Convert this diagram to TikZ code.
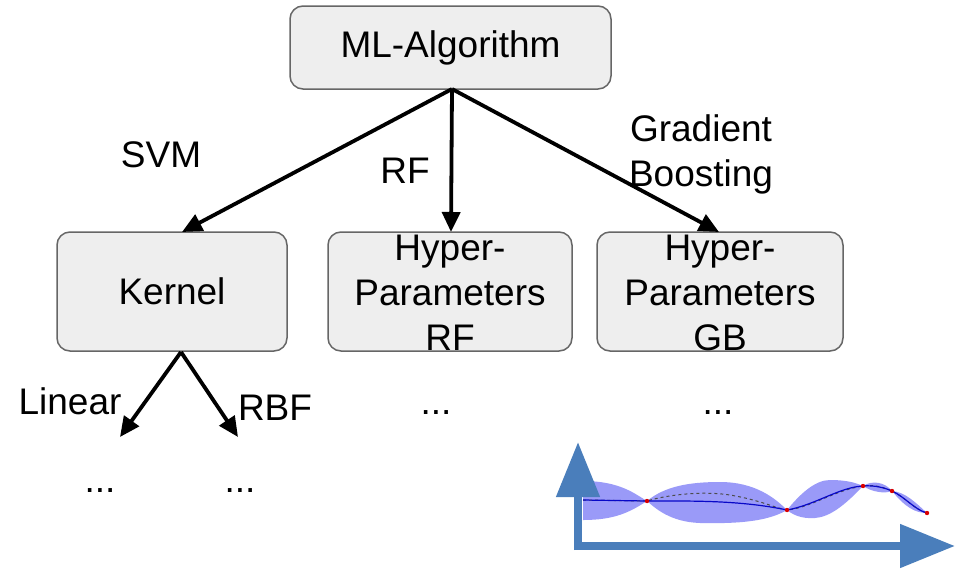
\documentclass[tikz,border=0pt]{standalone}
\usepackage{fontspec}
\setmainfont{Liberation Sans}
\usetikzlibrary{arrows.meta}
\definecolor{boxfill}{HTML}{EEEEEE}
\definecolor{boxline}{HTML}{666666}
\definecolor{axisblue}{HTML}{4A7EBB}
\definecolor{bandblue}{HTML}{9A9AF8}
\definecolor{meanblue}{HTML}{0808C8}
\begin{document}
\begin{tikzpicture}[x=1pt,y=-1pt]
\useasboundingbox (0,0) rectangle (955,568);
\tikzset{
  box/.style={draw=boxline, fill=boxfill, rounded corners=13pt, line width=1.5pt,
              inner sep=0pt},
  boxtext/.style={font=\fontsize{37}{45}\selectfont, align=center, inner sep=0pt},
  lbl/.style={font=\fontsize{37}{45}\selectfont, align=center, inner sep=0pt},
  edge/.style={line width=3.8pt, -{Triangle[length=20pt,width=18pt]}},
  axis/.style={line width=8pt, draw=axisblue, -{Triangle[length=55pt,width=42pt]}}
}
% boxes
\node[box, minimum width=321pt, minimum height=83pt] (ml) at (450.5,47.5) {};
\node[boxtext] at (ml) {ML-Algorithm};
\node[box, minimum width=230pt, minimum height=119pt] (kern) at (172,291.5) {};
\node[boxtext] at (kern) {Kernel};
\node[box, minimum width=244pt, minimum height=119pt] (rf) at (450,291.5) {};
\node[boxtext] at ([yshift=-1pt]rf.center) {Hyper-\\Parameters\\RF};
\node[box, minimum width=246pt, minimum height=119pt] (gb) at (720,291.5) {};
\node[boxtext] at ([yshift=-1pt]gb.center) {Hyper-\\Parameters\\GB};

% connectors
\coordinate (mlb) at (452,89);
\coordinate (kb) at (181,352);
\coordinate (lin) at (120,437);
\coordinate (rbf) at (238,437);
\draw[edge] (mlb) -- (182,232);
\draw[edge] (mlb) -- (451,232);
\draw[edge] (mlb) -- (719,232);
\draw[edge] (kb) -- (lin);
\draw[edge] (kb) -- (rbf);

% labels
\node[lbl] at (161,155) {SVM};
\node[lbl] at (405,171) {RF};
\node[lbl] at (701,154) {Gradient\\Boosting};
\node[lbl] at (70,401) {Linear};
\node[lbl] at (275,408) {RBF};
\node[lbl] at (100,491) {...};
\node[lbl] at (240,491) {...};
\node[lbl] at (436,413) {...};
\node[lbl] at (718,413) {...};

% small regression plot: confidence band
\fill[bandblue]
  (583,481) .. controls (620,481) and (635,494) .. (647,501)
  .. controls (665,486) and (690,482) .. (720,482)
  .. controls (755,482) and (775,498) .. (787,510)
  .. controls (800,494) and (815,480) .. (830,480)
  .. controls (850,480) and (858,484) .. (863,486)
  .. controls (872,480) and (885,482) .. (892,491)
  .. controls (905,492) and (915,502) .. (927,513)
  .. controls (915,513) and (905,507) .. (892,491)
  .. controls (885,494) and (872,492) .. (863,486)
  .. controls (845,505) and (830,517) .. (815,518)
  .. controls (800,519) and (792,514) .. (787,510)
  .. controls (770,520) and (745,524) .. (700,523)
  .. controls (670,522) and (655,508) .. (647,501)
  .. controls (630,512) and (615,520) .. (583,520) -- cycle;
% latent function (dashed)
\draw[gray!60!black, dashed, line width=1pt]
  (583,500) -- (647,501)
  .. controls (670,494) and (705,491) .. (730,495)
  .. controls (760,500) and (775,508) .. (787,510)
  .. controls (810,508) and (835,490) .. (863,486)
  .. controls (875,484) and (885,488) .. (892,491)
  .. controls (905,497) and (915,510) .. (927,513);
% posterior mean
\draw[meanblue, line width=1.2pt]
  (583,500) -- (647,501)
  .. controls (690,501) and (740,500) .. (787,510)
  .. controls (815,505) and (840,487) .. (863,486)
  .. controls (875,485) and (885,488) .. (892,491)
  .. controls (905,497) and (915,510) .. (927,513);
% observations
\foreach \p in {(647,501),(787,510),(863,486),(892,491),(927,513)}
  \fill[red!85!black] \p circle (2.2pt);
% axes
\draw[axis] (578,550) -- (578,442);
\draw[axis] (574,546) -- (955,546);
\end{tikzpicture}
\end{document}
